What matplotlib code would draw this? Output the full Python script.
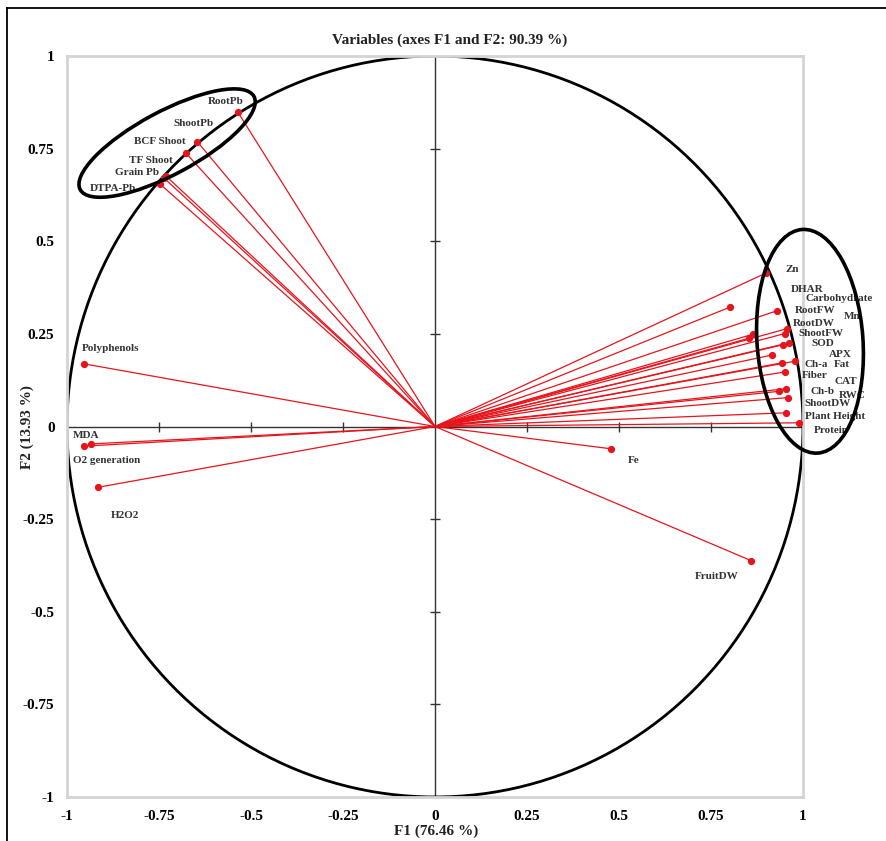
import numpy as np
import matplotlib
matplotlib.use("Agg")
import matplotlib.pyplot as plt
from matplotlib.patches import Ellipse
from matplotlib.lines import Line2D

plt.rcParams['font.family'] = ['Liberation Serif', 'DejaVu Serif']

# Variable loadings on F1 / F2
variables = [
    "RootPb", "ShootPb", "BCF Shoot", "TF Shoot", "Grain Pb", "DTPA-Pb",
    "Zn", "DHAR", "Carbohydrate", "RootFW", "Mn", "RootDW", "ShootFW", "SOD",
    "APX", "Ch-a", "Fat", "Fiber", "CAT", "Ch-b", "RWC", "ShootDW",
    "Plant Height", "Protein",
    "Polyphenols", "MDA", "O2 generation", "H2O2", "Fe", "FruitDW",
]
f1 = [
    -0.536, -0.646, -0.677, -0.731, -0.736, -0.748,
    0.899, 0.801, 0.928, 0.956, 0.951, 0.864, 0.852, 0.962,
    0.947, 0.916, 0.977, 0.944, 0.950, 0.955, 0.936, 0.960,
    0.955, 0.989,
    -0.953, -0.935, -0.953, -0.915, 0.477, 0.859,
]
f2 = [
    0.849, 0.769, 0.738, 0.676, 0.670, 0.655,
    0.414, 0.322, 0.312, 0.264, 0.251, 0.249, 0.238, 0.226,
    0.221, 0.193, 0.176, 0.172, 0.147, 0.102, 0.095, 0.078,
    0.037, 0.010,
    0.169, -0.047, -0.053, -0.164, -0.060, -0.362,
]
tick_values = [-1, -0.75, -0.5, -0.25, 0, 0.25, 0.5, 0.75, 1]
tick_labels = ["-1", "-0.75", "-0.5", "-0.25", "0", "0.25", "0.5", "0.75", "1"]
title = "Variables (axes F1 and F2: 90.39 %)"
xlabel = "F1 (76.46 %)"
ylabel = "F2 (13.93 %)"

# label offsets from each point (pixels, y up)
label_offsets = {
    "RootPb": (-12, 10), "ShootPb": (-4, 18), "BCF Shoot": (-26, 12),
    "TF Shoot": (-15, 16), "Grain Pb": (-27, 6), "DTPA-Pb": (-47, -5),
    "Zn": (26, 4), "DHAR": (77, 18), "Carbohydrate": (63, 12),
    "RootFW": (28, 18), "Mn": (67, 17), "RootDW": (61, 11),
    "ShootFW": (72, 5), "SOD": (34, -1), "APX": (57, -10),
    "Ch-a": (44, -10), "Fat": (47, -3), "Fiber": (32, -13),
    "CAT": (61, -9), "Ch-b": (36, -3), "RWC": (73, -4),
    "ShootDW": (39, -6), "Plant Height": (49, -4), "Protein": (32, -8),
    "Polyphenols": (26, 15), "MDA": (-5, 8), "O2 generation": (22, -14),
    "H2O2": (27, -28), "Fe": (23, -12), "FruitDW": (-34, -16),
}

fig = plt.figure(figsize=(8.86, 8.41), dpi=100)
ax = fig.add_axes([67 / 886, 44 / 841, 736 / 886, 741 / 841])
ax.set_xlim(-1, 1)
ax.set_ylim(-1, 1)

# light grey frame
for sp in ax.spines.values():
    sp.set_color("#d4d4d4")
    sp.set_linewidth(2)

ax.set_xticks(tick_values)
ax.set_xticklabels(tick_labels)
ax.set_yticks(tick_values)
ax.set_yticklabels(tick_labels)
ax.tick_params(length=0, labelsize=11)
ax.tick_params(axis="y", pad=9)
ax.tick_params(axis="x", pad=9)
for lab in ax.get_xticklabels() + ax.get_yticklabels():
    lab.set_fontweight("bold")

# correlation circle
t = np.linspace(0, 2 * np.pi, 400)
ax.plot(np.cos(t), np.sin(t), color="black", lw=2.0, zorder=2)

# zero axes with cross ticks
ax.plot([-1, 1], [0, 0], color="#333333", lw=1.0, zorder=1)
ax.plot([0, 0], [-1, 1], color="#333333", lw=1.0, zorder=1)
inner = [v for v in tick_values if v not in (-1, 0, 1)]
ax.plot(inner, [0] * len(inner), ls="none", marker="|", ms=7, mew=1.0,
        color="#333333", zorder=1)
ax.plot([0] * len(inner), inner, ls="none", marker="_", ms=7, mew=1.0,
        color="#333333", zorder=1)

# vectors
red = "#e8141c"
for name, x, y in zip(variables, f1, f2):
    ax.plot([0, x], [0, y], color=red, lw=0.9, zorder=3)
    ax.plot([x], [y], marker="o", ms=4.2, color=red, zorder=4)
    dx, dy = label_offsets[name]
    ax.annotate(name, (x, y), xytext=(dx, dy), textcoords="offset pixels",
                ha="center", va="center", fontsize=8, fontweight="bold",
                color="#333333", zorder=5, annotation_clip=False)

# highlighted groups
ax.add_patch(Ellipse((-0.728, 0.765), 0.535, 0.17, angle=28, fill=False,
                     ec="black", lw=2.6, zorder=6, clip_on=False))
ax.add_patch(Ellipse((1.019, 0.230), 0.288, 0.605, angle=4, fill=False,
                     ec="black", lw=2.6, zorder=6, clip_on=False))

fig.text(450 / 886, 1 - 40 / 841, title, ha="center", va="center",
         fontsize=11, fontweight="bold", color="#222222")
fig.text(436 / 886, 1 - 831 / 841, xlabel, ha="center", va="center",
         fontsize=11, fontweight="bold", color="#222222")
fig.text(27 / 886, 1 - 427 / 841, ylabel, ha="center", va="center",
         rotation=90, fontsize=11, fontweight="bold", color="#222222")

# outer border
fig.add_artist(Line2D([7 / 886, 1.0], [1 - 8 / 841, 1 - 8 / 841],
                      transform=fig.transFigure, color="black", lw=1.3))
fig.add_artist(Line2D([7 / 886, 7 / 886], [0.0, 1 - 8 / 841],
                      transform=fig.transFigure, color="black", lw=1.3))

fig.savefig("out.png", dpi=100)
